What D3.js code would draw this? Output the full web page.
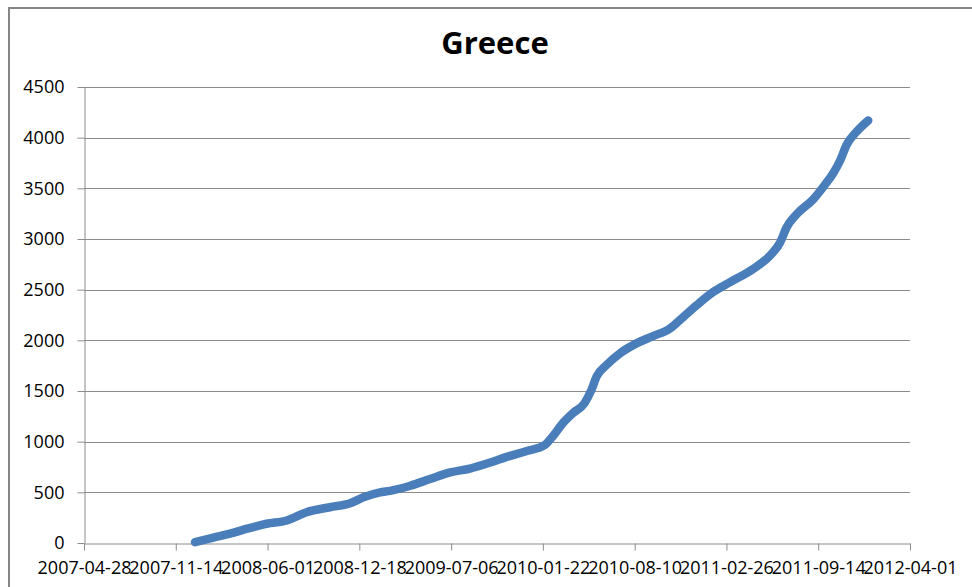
<!DOCTYPE html>
<html>
<head>
<meta charset="utf-8">
<script src="https://cdn.jsdelivr.net/npm/d3@7"></script>
<style>
  html, body { margin: 0; padding: 0; background: #fff; }
  svg { display: block; }
  text { font-family: "Open Sans", sans-serif; fill: #000; }
</style>
</head>
<body>
<svg id="chart" width="972" height="587"></svg>
<script>
const title = "Greece";
const dates = [
  "2007-12-26","2008-02-04","2008-03-11","2008-04-17","2008-05-30","2008-07-13",
  "2008-08-25","2008-10-15","2008-11-28","2008-12-27","2009-02-01","2009-02-23",
  "2009-04-08","2009-05-21","2009-07-04","2009-08-16","2009-09-29","2009-11-04",
  "2009-12-18","2010-01-26","2010-02-10","2010-03-07","2010-03-29","2010-04-23",
  "2010-05-08","2010-05-19","2010-06-10","2010-07-09","2010-08-14","2010-09-19",
  "2010-10-26","2010-11-24","2010-12-23","2011-01-28","2011-03-06","2011-04-25",
  "2011-06-01","2011-06-23","2011-07-07","2011-07-29","2011-09-03","2011-09-29",
  "2011-10-17","2011-10-31","2011-11-15","2011-12-07","2012-01-01"
];
const values = [
  8, 53, 92, 141, 190, 222,
  304, 353, 392, 451, 500, 515,
  565, 631, 696, 735, 794, 850,
  908, 967, 1039, 1186, 1284, 1382,
  1513, 1643, 1758, 1872, 1970, 2042,
  2117, 2231, 2346, 2476, 2574, 2705,
  2836, 2966, 3113, 3244, 3391, 3538,
  3652, 3767, 3930, 4061, 4170
];
const xTickLabels = ["2007-04-28","2007-11-14","2008-06-01","2008-12-18","2009-07-06",
  "2010-01-22","2010-08-10","2011-02-26","2011-09-14","2012-04-01"];
const yTicks = [0, 500, 1000, 1500, 2000, 2500, 3000, 3500, 4000, 4500];

const parse = d3.utcParse("%Y-%m-%d");
const fmt = d3.utcFormat("%Y-%m-%d");
const data = dates.map((d, i) => ({ date: parse(d), value: values[i] }));

const svg = d3.select("#chart");
const plotLeft = 84, plotRight = 910, plotTop = 87, plotBottom = 543;

// outer chart border
svg.append("rect")
  .attr("x", 9).attr("y", 8).attr("width", 990).attr("height", 600)
  .attr("fill", "none").attr("stroke", "#868686").attr("stroke-width", 2);

const x = d3.scaleUtc()
  .domain([parse(xTickLabels[0]), parse(xTickLabels[xTickLabels.length - 1])])
  .range([plotLeft, plotRight]);
const y = d3.scaleLinear().domain([0, 4500]).range([plotBottom, plotTop]);

// gridlines
svg.append("g")
  .selectAll("line").data(yTicks.filter(v => v > 0)).join("line")
  .attr("x1", plotLeft).attr("x2", plotRight)
  .attr("y1", d => Math.round(y(d)) + 0.5).attr("y2", d => Math.round(y(d)) + 0.5)
  .attr("stroke", "#8c8c8c").attr("stroke-width", 1);

// y axis
const yAxis = svg.append("g")
  .attr("transform", `translate(${plotLeft + 0.5},0)`)
  .call(d3.axisLeft(y).tickValues(yTicks).tickSize(7).tickSizeOuter(0).tickPadding(13).tickFormat(d3.format("d")));
yAxis.selectAll("path, line").attr("stroke", "#8c8c8c");
yAxis.selectAll("text").attr("font-size", 18).attr("font-family", "Open Sans, sans-serif").attr("fill", "#000");

// x axis
const xAxis = svg.append("g")
  .attr("transform", `translate(0,${plotBottom + 0.5})`)
  .call(d3.axisBottom(x).tickValues(xTickLabels.map(parse)).tickSize(7).tickSizeOuter(0).tickPadding(11).tickFormat(fmt));
xAxis.selectAll("path, line").attr("stroke", "#8c8c8c");
xAxis.selectAll("text").attr("font-size", 18).attr("font-family", "Open Sans, sans-serif").attr("fill", "#000");

// line
const line = d3.line()
  .x(d => x(d.date)).y(d => y(d.value))
  .curve(d3.curveMonotoneX);
svg.append("path")
  .datum(data)
  .attr("d", line)
  .attr("fill", "none")
  .attr("stroke", "#4a7ebb")
  .attr("stroke-width", 8.5)
  .attr("stroke-linecap", "round")
  .attr("stroke-linejoin", "round");

// title
svg.append("text")
  .attr("x", 495).attr("y", 54)
  .attr("text-anchor", "middle")
  .attr("font-size", 31).attr("font-weight", "bold")
  .text(title);
</script>
</body>
</html>
